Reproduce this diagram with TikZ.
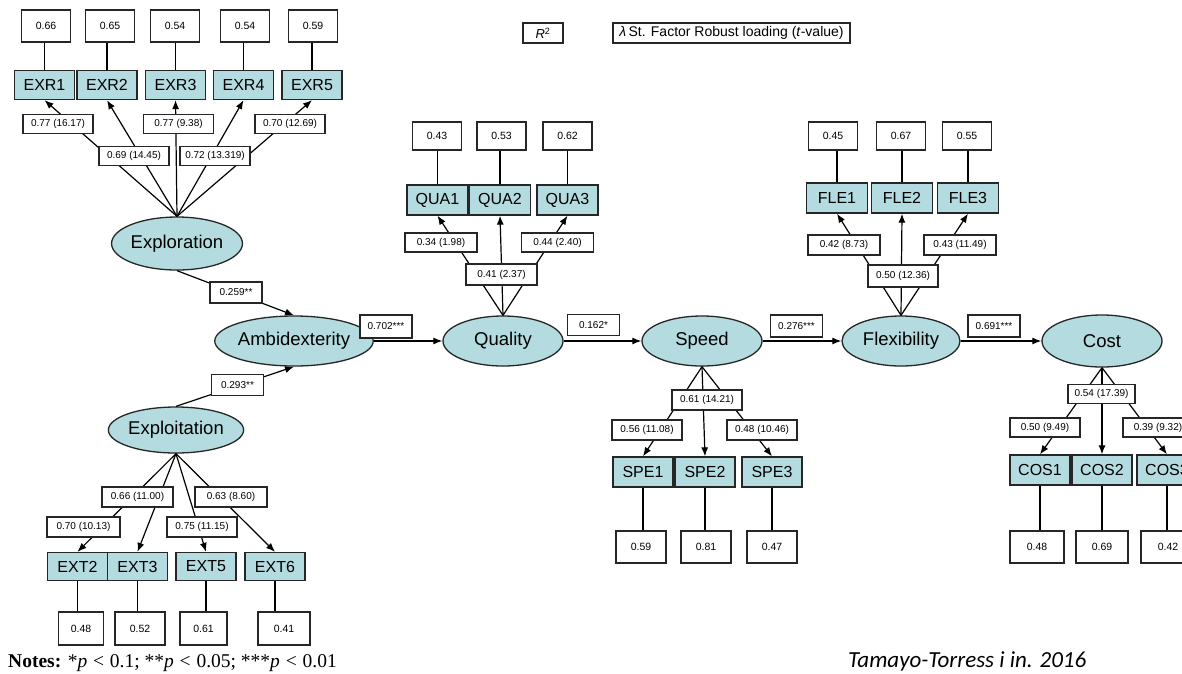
\documentclass[tikz,border=0pt]{standalone}
\usepackage{fontspec}
\setmainfont{Liberation Sans}
\newfontfamily\notesfont{Liberation Serif}
\newfontfamily\citefont{Carlito}
\usetikzlibrary{shapes.geometric,arrows.meta}
\definecolor{boxc}{RGB}{180,220,224}
\newcommand\setfs[1]{\fontsize{#1}{#1}\selectfont}
\begin{document}
\begin{tikzpicture}[x=1pt,y=-1pt,
 item/.style={rectangle,draw=black!85,line width=1.3pt,fill=boxc,minimum width=60pt,minimum height=29pt,inner sep=0pt,font=\setfs{16}},
 rsq/.style={rectangle,draw=black!85,line width=1.1pt,fill=white,minimum width=49pt,minimum height=30pt,inner sep=0pt,font=\setfs{10.5}},
 load/.style={rectangle,draw=black!85,line width=1.1pt,fill=white,minimum width=70pt,minimum height=19pt,inner sep=0pt,font=\setfs{10}},
 plab/.style={load,minimum width=52pt,minimum height=21pt},
 lat/.style={ellipse,draw=black!85,line width=1.3pt,fill=boxc,minimum width=120pt,minimum height=50pt,inner sep=0pt,font=\setfs{18.5}},
 arr/.style={line width=1.2pt,-{Latex[length=9pt,width=7pt]}},
 ln/.style={line width=1.2pt}]
\useasboundingbox (0,0) rectangle (1182,673);
\fill[white] (0,0) rectangle (1182,673);
\clip (0,0) rectangle (1182,673);

% ---------- legend ----------
\node[rsq,minimum width=40pt,minimum height=20pt,font=\setfs{13}] (legr) at (543,33) {\textit{R}\textsuperscript{2}};
\node[rsq,minimum width=237pt,minimum height=20pt,font=\setfs{14}] (legl) at (731.5,33) {{\itshape λ}\,St. Factor Robust loading (\textit{t}-value)};

% ---------- Exploration cluster ----------
\node[item] (exr1) at (44.5,85) {EXR1};
\node[item] (exr2) at (107,85) {EXR2};
\node[item] (exr3) at (175.5,85) {EXR3};
\node[item] (exr4) at (243.5,85) {EXR4};
\node[item] (exr5) at (312,85) {EXR5};
\node[rsq,minimum height=32pt] (re1) at (46,26) {0.66};
\node[rsq,minimum height=32pt] (re2) at (110,26) {0.65};
\node[rsq,minimum height=32pt] (re3) at (175,26) {0.54};
\node[rsq,minimum height=32pt] (re4) at (245,26) {0.54};
\node[rsq,minimum height=32pt] (re5) at (313,26) {0.59};
\node[lat,minimum width=118pt,minimum height=53pt] (expl) at (177,243.5) {Exploration};
\foreach \i in {1,...,5}{
  \draw[arr] (expl.north) -- (exr\i.south);
  \draw[ln] (exr\i.north) -- (exr\i.north |- re\i.south);
}
\node[load] (le1) at (58,124) {0.77 (16.17)};
\node[load] (le3) at (178.5,124) {0.77 (9.38)};
\node[load] (le5) at (290,124) {0.70 (12.69)};
\node[load] (le2) at (134,156) {0.69 (14.45)};
\node[load] (le4) at (215,156) {0.72 (13.319)};

% ---------- central chain ----------
\node[lat,minimum width=122pt] (ambi) at (294,341) {Ambidexterity};
\node[lat,minimum width=122pt,minimum height=46pt] (expt) at (176,430) {Exploitation};
\node[lat] (qual) at (503,341) {Quality};
\node[lat] (spee) at (702,341) {Speed};
\node[lat,minimum width=118pt] (flex) at (901,341) {Flexibility};
\node[lat,minimum height=52pt] (cost) at (1102,341) {Cost};

\draw[arr] (expl.south) -- (ambi.north);
\draw[arr] (expt.north) -- (ambi.south);
\draw[arr] (ambi.east) -- (qual.west);
\draw[arr] (qual.east) -- (spee.west);
\draw[arr] (spee.east) -- (flex.west);
\draw[arr] (flex.east) -- (cost.west);

\node[plab] (p1) at (236,292.5) {0.259**};
\node[plab] (p2) at (237.5,385) {0.293**};
\node[plab,minimum height=23pt] (p3) at (386,326.5) {0.702***};
\node[plab] (p4) at (593.5,325) {0.162*};
\node[plab,minimum height=22pt] (p5) at (796.5,326) {0.276***};
\node[plab,minimum height=22pt] (p6) at (994,326) {0.691***};

% ---------- Quality cluster ----------
\node[item,minimum width=61pt,minimum height=30pt] (qua1) at (437.5,200) {QUA1};
\node[item,minimum width=61pt,minimum height=30pt] (qua2) at (500,200) {QUA2};
\node[item,minimum width=61pt,minimum height=30pt] (qua3) at (567.5,200) {QUA3};
\node[rsq,minimum height=28pt] (rq1) at (437,136) {0.43};
\node[rsq,minimum height=28pt] (rq2) at (501.5,136) {0.53};
\node[rsq,minimum height=28pt] (rq3) at (567.5,136) {0.62};
\foreach \i in {1,2,3}{
  \draw[arr] (qual.north) -- (qua\i.south);
  \draw[ln] (qua\i.north) -- (qua\i.north |- rq\i.south);
}
\node[load,minimum width=72pt] (lq1) at (441,242.5) {0.34 (1.98)};
\node[load,minimum width=72pt] (lq3) at (557.5,242.5) {0.44 (2.40)};
\node[load,minimum width=71pt,minimum height=21pt] (lq2) at (501.5,274.5) {0.41 (2.37)};

% ---------- Flexibility cluster ----------
\node[item,minimum width=61pt,minimum height=30pt] (fle1) at (837,198) {FLE1};
\node[item,minimum width=61pt,minimum height=30pt] (fle2) at (902,198) {FLE2};
\node[item,minimum width=61pt,minimum height=30pt] (fle3) at (968,198) {FLE3};
\node[rsq,minimum height=28pt] (rf1) at (833,136) {0.45};
\node[rsq,minimum height=28pt] (rf2) at (901,136) {0.67};
\node[rsq,minimum height=28pt] (rf3) at (967,136) {0.55};
\foreach \i in {1,2,3}{
  \draw[arr] (flex.north) -- (fle\i.south);
  \draw[ln] (fle\i.north) -- (fle\i.north |- rf\i.south);
}
\node[load,minimum width=72pt,minimum height=20pt] (lf1) at (844,245) {0.42 (8.73)};
\node[load,minimum width=72pt,minimum height=20pt] (lf3) at (960,245) {0.43 (11.49)};
\node[load,minimum width=70pt,minimum height=22pt] (lf2) at (903,276) {0.50 (12.36)};

% ---------- Speed cluster ----------
\node[item,minimum height=30pt] (spe1) at (643,472) {SPE1};
\node[item,minimum height=30pt] (spe2) at (705,472) {SPE2};
\node[item,minimum height=30pt] (spe3) at (772,472) {SPE3};
\node[rsq,minimum width=50pt,minimum height=32pt] (rs1) at (641,547) {0.59};
\node[rsq,minimum width=50pt,minimum height=32pt] (rs2) at (706,547) {0.81};
\node[rsq,minimum width=50pt,minimum height=32pt] (rs3) at (772,547) {0.47};
\foreach \i in {1,2,3}{
  \draw[arr] (spee.south) -- (spe\i.north);
  \draw[ln] (spe\i.south) -- (spe\i.south |- rs\i.north);
}
\node[load,minimum height=20pt] (ls2) at (707,400) {0.61 (14.21)};
\node[load,minimum height=20pt] (ls1) at (647,430) {0.56 (11.08)};
\node[load,minimum height=20pt] (ls3) at (762,430) {0.48 (10.46)};

% ---------- Cost cluster ----------
\node[item,minimum height=30pt] (cos1) at (1040,470) {COS1};
\node[item,minimum height=30pt] (cos2) at (1102,470) {COS2};
\node[item,minimum height=30pt] (cos3) at (1167,470) {COS3};
\node[rsq,minimum width=54pt,minimum height=32pt] (rc1) at (1037,547) {0.48};
\node[rsq,minimum width=52pt,minimum height=32pt] (rc2) at (1102,547) {0.69};
\node[rsq,minimum width=54pt,minimum height=32pt] (rc3) at (1168,547) {0.42};
\foreach \i in {1,2,3}{
  \draw[arr] (cost.south) -- (cos\i.north);
  \draw[ln] (cos\i.south) -- (cos\i.south |- rc\i.north);
}
\node[load,minimum width=67pt] (lc2) at (1101.5,394) {0.54 (17.39)};
\node[load] (lc1) at (1045,427.5) {0.50 (9.49)};
\node[load] (lc3) at (1158,427.5) {0.39 (9.32)};

% ---------- Exploitation cluster ----------
\node[item,minimum height=28pt] (ext2) at (77.5,566.5) {EXT2};
\node[item,minimum height=28pt] (ext3) at (137.5,566.5) {EXT3};
\node[item,minimum height=28pt] (ext5) at (206,566.5) {EXT5};
\node[item,minimum height=28pt] (ext6) at (275,566.5) {EXT6};
\node[rsq,minimum width=45pt,minimum height=33pt] (rx2) at (81,628.5) {0.48};
\node[rsq,minimum width=50pt,minimum height=33pt] (rx3) at (140,628.5) {0.52};
\node[rsq,minimum width=47pt,minimum height=33pt] (rx5) at (203.5,628.5) {0.61};
\node[rsq,minimum width=52pt,minimum height=33pt] (rx6) at (284,628.5) {0.41};
\foreach \i in {2,3,5,6}{
  \draw[arr] (expt.south) -- (ext\i.north);
  \draw[ln] (ext\i.south) -- (ext\i.south |- rx\i.north);
}
\node[load,minimum width=71pt,minimum height=20pt] (lx3) at (137.5,497) {0.66 (11.00)};
\node[load,minimum width=72pt,minimum height=20pt] (lx6) at (231,497) {0.63 (8.60)};
\node[load,minimum width=73pt,minimum height=20pt] (lx2) at (83.5,527) {0.70 (10.13)};
\node[load,minimum width=70pt,minimum height=20pt] (lx5) at (202,527) {0.75 (11.15)};

% ---------- notes ----------
\node[anchor=base west,inner sep=0pt,font=\notesfont\setfs{19.5}] (notes) at (8,667)
  {\textbf{Notes:} *\textit{p}\kern0.3em<\kern0.3em0.1; **\textit{p}\kern0.3em<\kern0.3em0.05; ***\textit{p}\kern0.3em<\kern0.3em0.01};
\node[anchor=base west,inner sep=0pt,font=\citefont\itshape\setfs{23}] (cite) at (848,667) {Tamayo-Torress i in. 2016};
\end{tikzpicture}
\end{document}
